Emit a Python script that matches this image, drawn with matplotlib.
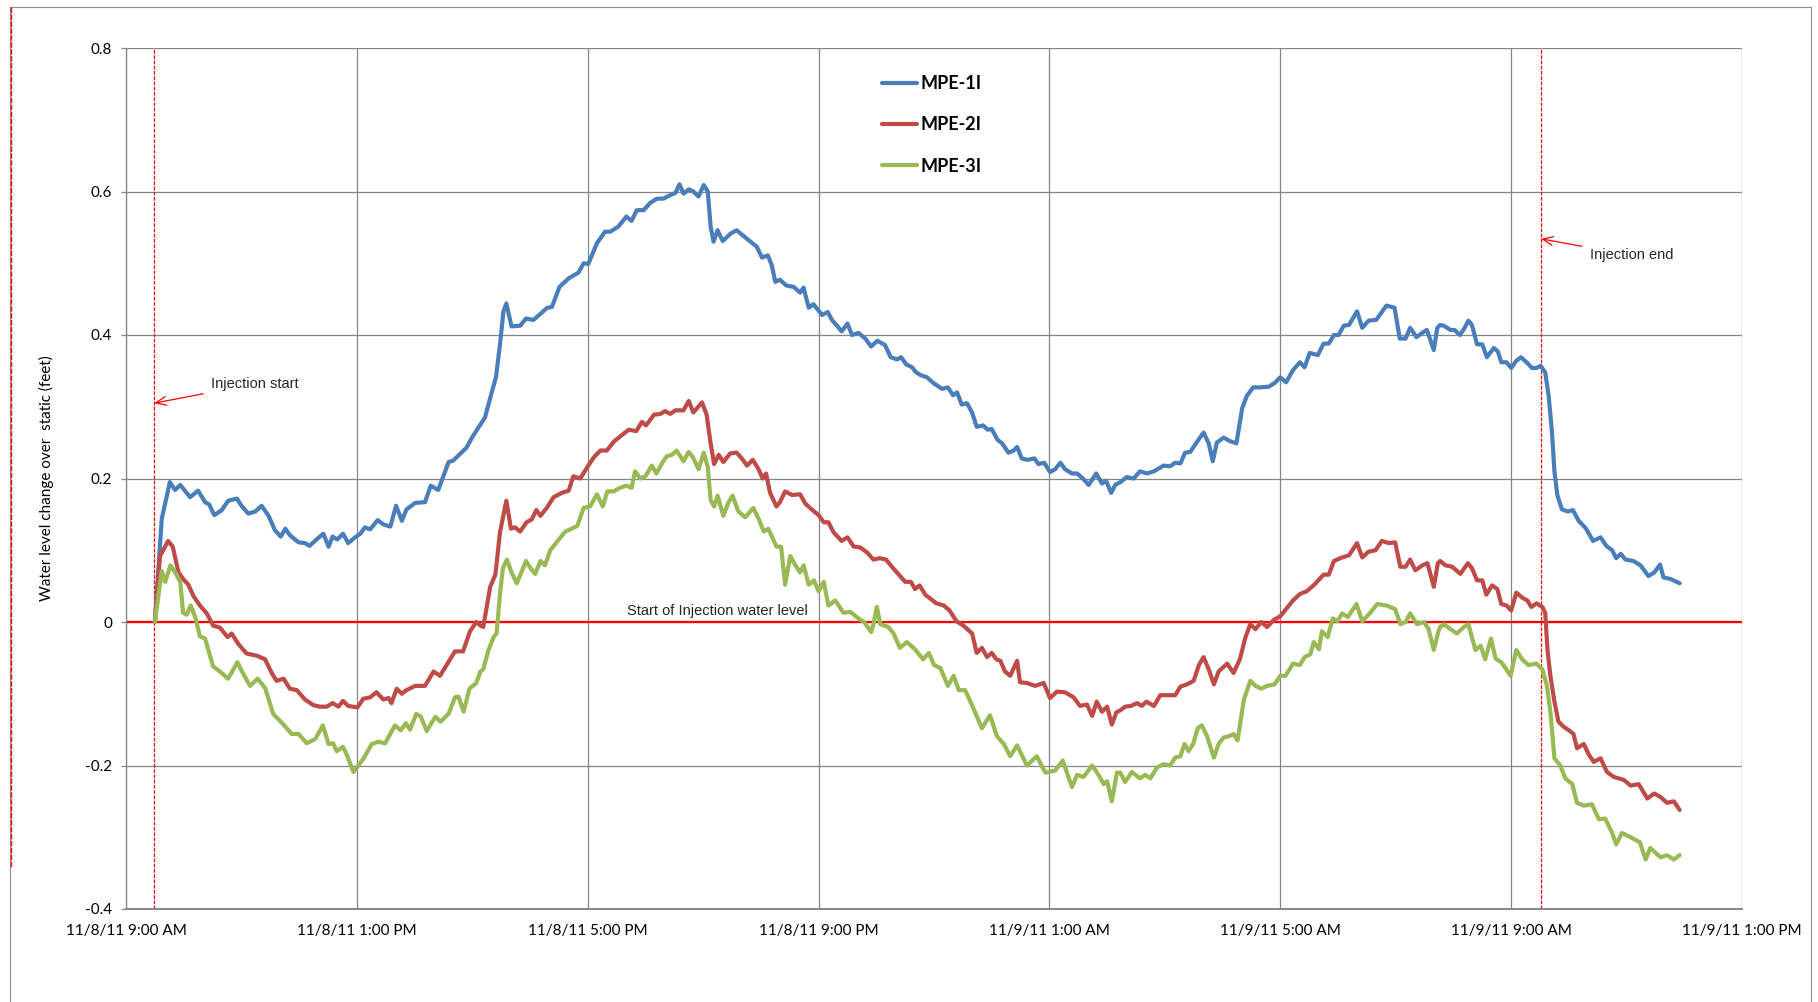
#!/usr/bin/env python3
"""
Water level change over static during injection test (MPE-1I / 2I / 3I)
"""

import matplotlib
matplotlib.use("Agg")
import matplotlib.pyplot as plt
from matplotlib.lines import Line2D
from matplotlib.ticker import FixedLocator, FixedFormatter
import pandas as pd

START = pd.Timestamp("2011-11-08 09:00")
END = pd.Timestamp("2011-11-09 13:00")

INJECTION_START_H = 0.49
INJECTION_END_H = 24.52

X_TICK_HOURS = [0, 4, 8, 12, 16, 20, 24, 28]
X_TICK_LABELS = ["11/8/11 9:00 AM", "11/8/11 1:00 PM", "11/8/11 5:00 PM",
                 "11/8/11 9:00 PM", "11/9/11 1:00 AM", "11/9/11 5:00 AM",
                 "11/9/11 9:00 AM", "11/9/11 1:00 PM"]
Y_TICKS = [-0.4, -0.2, 0, 0.2, 0.4, 0.6, 0.8]
Y_TICK_LABELS = ["-0.4", "-0.2", "0", "0.2", "0.4", "0.6", "0.8"]

# hours after 11/8/11 9:00 AM
MPE1_HOURS = [
    0.50, 0.62, 0.76, 0.85, 0.94, 1.11, 1.25, 1.37, 1.44, 1.53,
    1.66, 1.77, 1.92, 2.01, 2.12, 2.24, 2.35, 2.47, 2.58, 2.68,
    2.76, 2.84, 2.99, 3.10, 3.18, 3.30, 3.42, 3.51, 3.58, 3.66,
    3.76, 3.85, 3.97, 4.06, 4.14, 4.23, 4.36, 4.46, 4.58, 4.68,
    4.78, 4.86, 5.01, 5.18, 5.28, 5.41, 5.59, 5.67, 5.90, 6.01,
    6.14,
    6.22, 6.34, 6.41, 6.48, 6.54, 6.59, 6.63, 6.68, 6.83, 6.93,
    7.06, 7.20, 7.30, 7.38, 7.51, 7.67, 7.84, 7.93, 8.01, 8.16,
    8.30, 8.39, 8.53, 8.67, 8.76, 8.85, 8.97, 9.08, 9.20, 9.31,
    9.43, 9.52, 9.59, 9.66, 9.75, 9.83, 9.92, 10.01, 10.08, 10.13,
    10.18, 10.25, 10.34, 10.47, 10.58, 10.76, 10.93, 11.02, 11.12, 11.19,
    11.25, 11.33, 11.44, 11.57, 11.68,
    11.74, 11.83, 11.91, 12.06, 12.16, 12.23, 12.32, 12.40, 12.50, 12.58,
    12.69, 12.81, 12.91, 13.02, 13.15, 13.25, 13.36, 13.43, 13.52, 13.62,
    13.69, 13.77, 13.88, 13.99, 14.14, 14.24, 14.33, 14.40, 14.48, 14.57,
    14.66, 14.74, 14.85, 14.93, 15.00, 15.10, 15.18, 15.29, 15.38, 15.44,
    15.52, 15.62, 15.74, 15.81, 15.91, 16.01, 16.10, 16.19, 16.27, 16.39,
    16.48, 16.58, 16.68, 16.81, 16.91, 16.98, 17.07, 17.14, 17.23,
    17.34, 17.46, 17.57, 17.69, 17.81, 17.98, 18.09, 18.18, 18.27, 18.35,
    18.44, 18.54, 18.67, 18.76, 18.83, 18.90, 19.02, 19.13, 19.24, 19.34,
    19.42, 19.53, 19.65, 19.80, 19.90, 20.00, 20.10, 20.22, 20.34, 20.42,
    20.51, 20.65, 20.75, 20.84, 20.93, 21.01, 21.10, 21.19, 21.33, 21.42,
    21.53, 21.66, 21.75, 21.84, 21.98, 22.07, 22.17, 22.25, 22.36, 22.46,
    22.54, 22.66, 22.72, 22.77,
    22.83, 22.95, 23.02, 23.11, 23.18, 23.26, 23.32, 23.41, 23.50, 23.58,
    23.70, 23.77, 23.83, 23.92, 24.00, 24.09, 24.17, 24.28, 24.36, 24.44,
    24.51, 24.59, 24.65, 24.71, 24.75, 24.80, 24.88, 24.98, 25.07, 25.17,
    25.29, 25.42, 25.55, 25.65, 25.75, 25.82, 25.90, 25.98, 26.12, 26.24,
    26.38, 26.48, 26.58, 26.64, 26.76, 26.92,
]
MPE1_LEVEL = [
    0.000, 0.144, 0.195, 0.184, 0.191, 0.174, 0.183, 0.167, 0.164, 0.149,
    0.156, 0.169, 0.172, 0.161, 0.151, 0.154, 0.162, 0.148, 0.128, 0.119,
    0.130, 0.121, 0.111, 0.110, 0.106, 0.115, 0.123, 0.105, 0.119, 0.115,
    0.123, 0.110, 0.118, 0.123, 0.132, 0.129, 0.142, 0.136, 0.133, 0.162,
    0.141, 0.157, 0.166, 0.167, 0.190, 0.184, 0.223, 0.225, 0.243, 0.259,
    0.275,
    0.285, 0.321, 0.341, 0.387, 0.433, 0.444, 0.430, 0.412, 0.413, 0.423,
    0.421, 0.431, 0.438, 0.439, 0.467, 0.479, 0.487, 0.500, 0.499, 0.528,
    0.544, 0.544, 0.551, 0.565, 0.559, 0.574, 0.574, 0.584, 0.590, 0.590,
    0.595, 0.598, 0.610, 0.597, 0.603, 0.600, 0.593, 0.609, 0.600, 0.551,
    0.530, 0.546, 0.531, 0.541, 0.546, 0.534, 0.523, 0.508, 0.511, 0.497,
    0.474, 0.477, 0.469, 0.467, 0.459,
    0.466, 0.438, 0.443, 0.428, 0.432, 0.421, 0.413, 0.405, 0.416, 0.400,
    0.403, 0.395, 0.384, 0.392, 0.386, 0.369, 0.366, 0.369, 0.359, 0.355,
    0.348, 0.344, 0.341, 0.333, 0.325, 0.327, 0.316, 0.320, 0.303, 0.305,
    0.292, 0.272, 0.274, 0.268, 0.269, 0.254, 0.249, 0.236, 0.239, 0.244,
    0.228, 0.226, 0.228, 0.220, 0.222, 0.209, 0.213, 0.222, 0.213, 0.207,
    0.207, 0.200, 0.191, 0.207, 0.193, 0.197, 0.180, 0.191, 0.195,
    0.202, 0.200, 0.210, 0.207, 0.210, 0.218, 0.217, 0.222, 0.221, 0.236,
    0.237, 0.249, 0.264, 0.249, 0.224, 0.250, 0.257, 0.252, 0.249, 0.298,
    0.315, 0.327, 0.327, 0.328, 0.333, 0.341, 0.334, 0.351, 0.362, 0.355,
    0.375, 0.372, 0.388, 0.388, 0.400, 0.400, 0.413, 0.414, 0.433, 0.410,
    0.420, 0.421, 0.431, 0.441, 0.438, 0.395, 0.395, 0.410, 0.397, 0.403,
    0.407, 0.379, 0.410, 0.414,
    0.413, 0.407, 0.407, 0.400, 0.408, 0.420, 0.414, 0.387, 0.387, 0.369,
    0.382, 0.377, 0.362, 0.362, 0.354, 0.364, 0.369, 0.361, 0.354, 0.354,
    0.357, 0.348, 0.315, 0.262, 0.210, 0.177, 0.157, 0.154, 0.156, 0.141,
    0.131, 0.113, 0.118, 0.106, 0.100, 0.089, 0.095, 0.087, 0.085, 0.079,
    0.064, 0.069, 0.080, 0.062, 0.060, 0.054,
]

MPE2_HOURS = [
    0.50, 0.59, 0.73, 0.81, 0.91, 0.99, 1.08, 1.17, 1.28, 1.40,
    1.51, 1.63, 1.76, 1.83, 1.95, 2.09, 2.27, 2.41, 2.53, 2.61,
    2.73, 2.84, 2.96, 3.10, 3.25, 3.36, 3.48, 3.58, 3.68, 3.76,
    3.85, 4.01, 4.11, 4.23, 4.34, 4.46, 4.55, 4.60, 4.69, 4.78,
    4.86, 5.01, 5.18, 5.33, 5.44, 5.70, 5.84, 5.96, 6.07, 6.14,
    6.19, 6.31, 6.40, 6.48, 6.59, 6.67, 6.74, 6.83, 6.94, 7.03,
    7.11, 7.18, 7.29, 7.41, 7.55, 7.67, 7.75, 7.87, 8.01, 8.11,
    8.22, 8.33, 8.46, 8.57, 8.71, 8.84, 8.94, 9.01, 9.15, 9.26,
    9.34, 9.43, 9.52, 9.66, 9.75, 9.83, 9.98, 10.06, 10.13, 10.19,
    10.27, 10.35, 10.47, 10.58, 10.67, 10.76, 10.86, 10.96, 11.03, 11.09,
    11.16, 11.27, 11.33, 11.42, 11.54, 11.68,
    11.77, 11.88, 12.00, 12.09, 12.17, 12.26, 12.40, 12.50, 12.61, 12.72,
    12.84, 12.95, 13.06, 13.17, 13.27, 13.39, 13.50, 13.60, 13.67, 13.75,
    13.85, 13.93, 14.04, 14.17, 14.27, 14.39, 14.51, 14.66, 14.74, 14.83,
    14.92, 15.00, 15.08, 15.15, 15.23, 15.32, 15.44, 15.49, 15.61, 15.75,
    15.90, 16.01, 16.13, 16.27, 16.42, 16.53, 16.65, 16.74, 16.82, 16.91,
    17.00, 17.08, 17.16, 17.23,
    17.31, 17.41, 17.52, 17.60, 17.68, 17.81, 17.92, 18.07, 18.18, 18.27,
    18.38, 18.50, 18.59, 18.67, 18.76, 18.85, 18.93, 19.08, 19.19, 19.30,
    19.39, 19.48, 19.57, 19.67, 19.77, 19.89, 20.00, 20.12, 20.22, 20.34,
    20.46, 20.59, 20.75, 20.84, 20.93, 21.04, 21.19, 21.33, 21.42, 21.53,
    21.65, 21.76, 21.88, 21.99, 22.08, 22.17, 22.25, 22.34, 22.46, 22.55,
    22.66, 22.73, 22.77,
    22.86, 22.98, 23.12, 23.25, 23.32, 23.41, 23.50, 23.57, 23.67, 23.76,
    23.83, 23.92, 24.00, 24.09, 24.19, 24.28, 24.35, 24.44, 24.54, 24.59,
    24.63, 24.68, 24.75, 24.82, 24.91, 25.02, 25.08, 25.14, 25.26, 25.34,
    25.43, 25.55, 25.66, 25.78, 25.95, 26.07, 26.21, 26.36, 26.48, 26.59,
    26.70, 26.82, 26.92,
]
MPE2_LEVEL = [
    0.000, 0.092, 0.113, 0.105, 0.069, 0.060, 0.052, 0.036, 0.023, 0.012,
    -0.005, -0.008, -0.021, -0.016, -0.031, -0.044, -0.047, -0.052, -0.072, -0.082,
    -0.079, -0.093, -0.095, -0.108, -0.116, -0.118, -0.118, -0.113, -0.118, -0.110,
    -0.117, -0.119, -0.107, -0.105, -0.098, -0.108, -0.106, -0.113, -0.093, -0.100,
    -0.095, -0.089, -0.089, -0.069, -0.075, -0.041, -0.041, -0.013, 0.000, -0.005,
    -0.007, 0.049, 0.066, 0.125, 0.169, 0.130, 0.132, 0.126, 0.139, 0.143,
    0.156, 0.148, 0.159, 0.174, 0.180, 0.183, 0.203, 0.200, 0.218, 0.230,
    0.239, 0.239, 0.252, 0.259, 0.268, 0.266, 0.279, 0.274, 0.289, 0.290,
    0.294, 0.290, 0.295, 0.295, 0.308, 0.292, 0.306, 0.289, 0.249, 0.220,
    0.233, 0.223, 0.235, 0.236, 0.228, 0.218, 0.226, 0.213, 0.200, 0.207,
    0.180, 0.161, 0.167, 0.182, 0.177, 0.178,
    0.165, 0.157, 0.149, 0.139, 0.139, 0.125, 0.113, 0.118, 0.105, 0.104,
    0.097, 0.087, 0.089, 0.087, 0.077, 0.066, 0.056, 0.056, 0.046, 0.051,
    0.038, 0.033, 0.026, 0.023, 0.016, 0.001, -0.005, -0.016, -0.043, -0.036,
    -0.049, -0.043, -0.052, -0.054, -0.069, -0.075, -0.054, -0.084, -0.085, -0.089,
    -0.085, -0.106, -0.097, -0.098, -0.105, -0.117, -0.115, -0.131, -0.111, -0.125,
    -0.118, -0.143, -0.126, -0.123,
    -0.118, -0.117, -0.113, -0.117, -0.111, -0.117, -0.102, -0.102, -0.102, -0.090,
    -0.087, -0.082, -0.060, -0.049, -0.066, -0.087, -0.069, -0.058, -0.071, -0.052,
    -0.023, -0.003, -0.010, 0.000, -0.007, 0.003, 0.008, 0.020, 0.030, 0.039,
    0.043, 0.052, 0.066, 0.066, 0.085, 0.089, 0.093, 0.110, 0.090, 0.098,
    0.100, 0.113, 0.110, 0.111, 0.077, 0.077, 0.087, 0.072, 0.079, 0.082,
    0.049, 0.082, 0.085,
    0.079, 0.077, 0.067, 0.082, 0.075, 0.058, 0.058, 0.038, 0.051, 0.046,
    0.025, 0.023, 0.016, 0.041, 0.034, 0.030, 0.021, 0.026, 0.021, 0.013,
    -0.039, -0.075, -0.111, -0.139, -0.146, -0.152, -0.156, -0.176, -0.170, -0.184,
    -0.195, -0.190, -0.209, -0.216, -0.220, -0.228, -0.226, -0.246, -0.239, -0.244,
    -0.252, -0.250, -0.262,
]

MPE3_HOURS = [
    0.50, 0.62, 0.68, 0.77, 0.87, 0.94, 0.99, 1.05, 1.12, 1.20,
    1.28, 1.37, 1.51, 1.63, 1.77, 1.93, 2.03, 2.15, 2.28, 2.41,
    2.55, 2.73, 2.87, 2.99, 3.13, 3.28, 3.41, 3.51, 3.59, 3.65,
    3.76, 3.82, 3.94, 4.11, 4.26, 4.37, 4.49, 4.66, 4.76, 4.85,
    4.92, 5.03, 5.11, 5.21, 5.36, 5.45, 5.59, 5.70, 5.76, 5.85,
    5.95, 6.07, 6.14,
    6.19, 6.28, 6.37, 6.42, 6.48, 6.53, 6.60, 6.68, 6.77, 6.86,
    6.93, 7.01, 7.09, 7.18, 7.26, 7.35, 7.46, 7.61, 7.72, 7.82,
    7.93, 8.04, 8.16, 8.26, 8.34, 8.45, 8.56, 8.67, 8.76, 8.82,
    8.91, 9.00, 9.11, 9.19, 9.30, 9.37, 9.46, 9.54, 9.66, 9.75,
    9.82, 9.92, 10.01, 10.08, 10.13, 10.19, 10.25, 10.35, 10.44, 10.51,
    10.61, 10.73, 10.87, 10.96, 11.05, 11.13, 11.27, 11.35, 11.42, 11.51,
    11.60, 11.68,
    11.74, 11.83, 11.92, 12.00, 12.09, 12.17, 12.29, 12.43, 12.55, 12.69,
    12.79, 12.91, 12.95, 13.01, 13.07, 13.21, 13.30, 13.41, 13.53, 13.67,
    13.81, 13.91, 14.00, 14.11, 14.24, 14.34, 14.43, 14.54, 14.67, 14.83,
    14.97, 15.09, 15.21, 15.32, 15.44, 15.61, 15.78, 15.93, 16.10, 16.23,
    16.39, 16.48, 16.59, 16.74, 16.85, 16.94, 17.00, 17.08, 17.17, 17.23,
    17.31, 17.43, 17.57, 17.66, 17.75, 17.86, 17.98, 18.09, 18.18, 18.27,
    18.34, 18.41, 18.49, 18.57, 18.64, 18.73, 18.85, 18.93, 19.02, 19.12,
    19.19, 19.26, 19.37, 19.48, 19.57, 19.67, 19.77, 19.90, 20.00, 20.09,
    20.22, 20.34, 20.42, 20.52, 20.58, 20.67, 20.72, 20.82, 20.91, 20.99,
    21.07, 21.17, 21.32, 21.42, 21.55, 21.68, 21.84, 21.99, 22.08, 22.17,
    22.25, 22.37, 22.49, 22.57, 22.66, 22.74, 22.77,
    22.83, 22.95, 23.06, 23.18, 23.26, 23.38, 23.47, 23.55, 23.65, 23.73,
    23.83, 23.90, 23.99, 24.09, 24.19, 24.30, 24.44, 24.54, 24.62, 24.68,
    24.75, 24.85, 24.94, 25.06, 25.14, 25.26, 25.40, 25.52, 25.63, 25.75,
    25.82, 25.92, 26.07, 26.23, 26.33, 26.41, 26.59, 26.70, 26.82, 26.92,
]
MPE3_LEVEL = [
    0.000, 0.071, 0.056, 0.079, 0.067, 0.056, 0.013, 0.010, 0.023, 0.007,
    -0.020, -0.023, -0.062, -0.069, -0.079, -0.056, -0.072, -0.089, -0.079, -0.092,
    -0.128, -0.143, -0.156, -0.156, -0.169, -0.163, -0.144, -0.170, -0.169, -0.180,
    -0.174, -0.184, -0.209, -0.191, -0.170, -0.167, -0.169, -0.144, -0.151, -0.141,
    -0.150, -0.128, -0.132, -0.152, -0.132, -0.139, -0.128, -0.105, -0.104, -0.125,
    -0.093, -0.085, -0.069,
    -0.066, -0.039, -0.021, -0.016, 0.039, 0.075, 0.087, 0.069, 0.054, 0.071,
    0.085, 0.075, 0.067, 0.085, 0.079, 0.100, 0.111, 0.126, 0.130, 0.134,
    0.159, 0.161, 0.178, 0.161, 0.182, 0.182, 0.187, 0.190, 0.187, 0.210,
    0.200, 0.203, 0.218, 0.207, 0.223, 0.231, 0.233, 0.239, 0.224, 0.237,
    0.230, 0.213, 0.236, 0.216, 0.170, 0.161, 0.176, 0.148, 0.167, 0.176,
    0.154, 0.146, 0.159, 0.144, 0.126, 0.130, 0.105, 0.105, 0.052, 0.092,
    0.079, 0.069,
    0.079, 0.052, 0.058, 0.043, 0.056, 0.023, 0.030, 0.013, 0.014, 0.005,
    0.000, -0.014, -0.003, 0.021, -0.003, -0.007, -0.016, -0.036, -0.028, -0.038,
    -0.052, -0.043, -0.060, -0.064, -0.089, -0.075, -0.095, -0.095, -0.118, -0.148,
    -0.130, -0.159, -0.170, -0.187, -0.172, -0.200, -0.187, -0.210, -0.207, -0.193,
    -0.230, -0.213, -0.216, -0.200, -0.213, -0.226, -0.222, -0.250, -0.210, -0.210,
    -0.223, -0.209, -0.218, -0.213, -0.218, -0.203, -0.198, -0.200, -0.189, -0.187,
    -0.170, -0.180, -0.170, -0.148, -0.144, -0.159, -0.189, -0.170, -0.161, -0.159,
    -0.156, -0.165, -0.108, -0.082, -0.089, -0.093, -0.089, -0.087, -0.075, -0.075,
    -0.058, -0.060, -0.049, -0.045, -0.028, -0.038, -0.013, -0.021, 0.005, 0.001,
    0.012, 0.007, 0.025, 0.001, 0.012, 0.025, 0.023, 0.018, -0.003, 0.000,
    0.012, -0.003, 0.000, -0.010, -0.039, -0.013, -0.007,
    -0.003, -0.010, -0.016, -0.007, -0.003, -0.039, -0.033, -0.052, -0.023, -0.051,
    -0.056, -0.064, -0.075, -0.039, -0.052, -0.060, -0.058, -0.066, -0.089, -0.125,
    -0.190, -0.200, -0.218, -0.226, -0.252, -0.256, -0.254, -0.275, -0.274, -0.294,
    -0.310, -0.294, -0.300, -0.307, -0.331, -0.315, -0.328, -0.325, -0.331, -0.325,
]

SERIES = [
    ("MPE-1I", MPE1_HOURS, MPE1_LEVEL, "#4A7EBB"),
    ("MPE-2I", MPE2_HOURS, MPE2_LEVEL, "#BE4B48"),
    ("MPE-3I", MPE3_HOURS, MPE3_LEVEL, "#98B954"),
]

W, H = 1818, 1002
GRID = "#868686"
TICK_FONT = ["Lato", "DejaVu Sans"]
NOTE_FONT = ["Liberation Sans Narrow", "Liberation Sans", "DejaVu Sans"]


def to_time(hours):
    return (START + pd.to_timedelta(pd.Series(hours, dtype=float), unit="h")).to_numpy()


def main():
    fig = plt.figure(figsize=(W / 100, H / 100), dpi=100)
    fig.patch.set_facecolor("white")

    def fx(px):
        return px / W

    def fy(py):
        return 1 - py / H

    # chart frame and the stray red dashed line at the far left
    for xs, ys in [((10, 1811), (7, 7)), ((10, 10), (7, 1002)), ((1811, 1811), (7, 1002))]:
        fig.add_artist(Line2D([fx(x) for x in xs], [fy(y) for y in ys],
                              transform=fig.transFigure, color="#8c8c8c", lw=0.8))
    fig.add_artist(Line2D([fx(11), fx(11)], [fy(7), fy(867)], transform=fig.transFigure,
                          color="#ff0000", lw=1.0, ls=(0, (4, 1))))

    ax = fig.add_axes([fx(126), fy(909), (1742 - 126) / W, (909 - 48) / H])

    for name, hrs, lvl, color in SERIES:
        ax.plot(to_time(hrs), lvl, color=color, lw=3.0, label=name,
                solid_joinstyle="round", solid_capstyle="round", zorder=3)

    ax.axhline(0, color="#ff0000", lw=1.6, zorder=2)
    for h in (INJECTION_START_H, INJECTION_END_H):
        ax.axvline(to_time([h])[0], color="#ff0000", lw=0.9, ls=(0, (3, 1.2)), zorder=2)

    ax.set_xlim(START, END)
    ax.set_ylim(-0.4, 0.8)
    ax.xaxis.set_major_locator(FixedLocator(
        [matplotlib.dates.date2num(t) for t in to_time(X_TICK_HOURS)]))
    ax.xaxis.set_major_formatter(FixedFormatter(X_TICK_LABELS))
    ax.set_yticks(Y_TICKS)
    ax.set_yticklabels(Y_TICK_LABELS)

    ax.grid(True, color=GRID, lw=0.9, zorder=0)
    ax.set_axisbelow(True)
    for side in ("top", "right"):
        ax.spines[side].set_visible(False)
    ax.spines["left"].set_color(GRID)
    ax.spines["left"].set_linewidth(0.9)
    ax.spines["bottom"].set_color(GRID)
    ax.spines["bottom"].set_linewidth(1.4)

    ax.tick_params(axis="y", length=3.5, width=0.9, color=GRID, pad=6.5, labelsize=11)
    ax.tick_params(axis="x", length=0, pad=11, labelsize=11)
    for lab in ax.get_xticklabels() + ax.get_yticklabels():
        lab.set_family(TICK_FONT)
        lab.set_color("black")

    ylab = ax.set_ylabel("Water level change over  static (feet)", fontsize=11,
                         family=TICK_FONT, color="black")
    ylab.set_va("center")
    ax.yaxis.set_label_coords((46.5 - 126) / (1742 - 126), 0.5)

    arrow = dict(arrowstyle="->,head_length=0.7,head_width=0.3", color="#ff0000",
                 lw=0.9, shrinkA=4, shrinkB=0)
    ax.annotate("Injection start", xy=(to_time([INJECTION_START_H])[0], 0.305),
                xytext=(to_time([1.48])[0], 0.332), ha="left", va="center",
                fontsize=10.5, family=NOTE_FONT, color="#262626", arrowprops=arrow)
    ax.annotate("Injection end", xy=(to_time([INJECTION_END_H])[0], 0.534),
                xytext=(to_time([25.37])[0], 0.511), ha="left", va="center",
                fontsize=10.5, family=NOTE_FONT, color="#262626", arrowprops=arrow)
    ax.text(to_time([8.68])[0], 0.005, "Start of Injection water level", ha="left",
            va="bottom", fontsize=10.5, family=NOTE_FONT, color="#262626")

    leg = ax.legend(loc="upper left", bbox_to_anchor=(fx(882), fy(75)),
                    bbox_transform=fig.transFigure, frameon=False, borderpad=0,
                    borderaxespad=0, handlelength=1.95, handletextpad=0.2,
                    labelspacing=1.35, prop={"family": TICK_FONT, "weight": "bold", "size": 13})
    for line in leg.get_lines():
        line.set_linewidth(3.0)

    fig.savefig("out.png", dpi=100, facecolor="white")
    plt.close(fig)


if __name__ == "__main__":
    main()
